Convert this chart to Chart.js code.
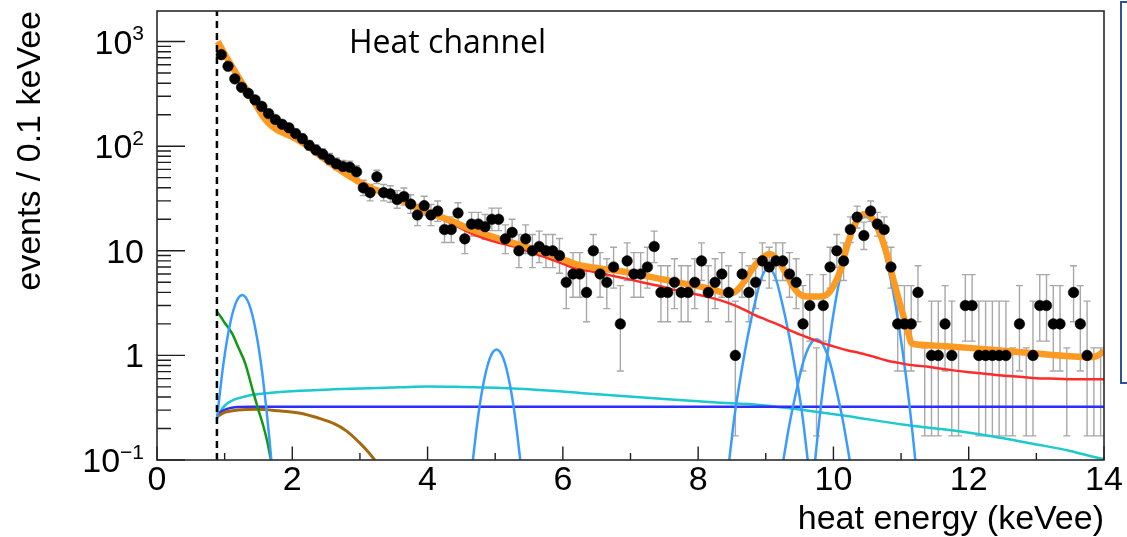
<!DOCTYPE html>
<html><head><meta charset="utf-8">
<script src="https://cdn.jsdelivr.net/npm/chart.js@4/dist/chart.umd.min.js"></script>
<style>html,body{margin:0;padding:0;background:#fff;}canvas{display:block;}</style>
</head><body>
<canvas id="c" width="1127" height="537"></canvas>
<script>
// ---------- data: histogram (events / 0.1 keVee) ----------
const binE = [0.95,1.05,1.15,1.25,1.35,1.45,1.55,1.65,1.75,1.85,
1.95,2.05,2.15,2.25,2.35,2.45,2.55,2.65,2.75,2.85,
2.95,3.05,3.15,3.25,3.35,3.45,3.55,3.65,3.75,3.85,
3.95,4.05,4.15,4.25,4.35,4.45,4.55,4.65,4.75,4.85,
4.95,5.05,5.15,5.25,5.35,5.45,5.55,5.65,5.75,5.85,
5.95,6.05,6.15,6.25,6.35,6.45,6.55,6.65,6.75,6.85,
6.95,7.05,7.15,7.25,7.35,7.45,7.55,7.65,7.75,7.85,
7.95,8.05,8.15,8.25,8.35,8.45,8.55,8.65,8.75,8.85,
8.95,9.05,9.15,9.25,9.35,9.45,9.55,9.65,9.75,9.85,
9.95,10.05,10.15,10.25,10.35,10.45,10.55,10.65,10.75,10.85,
10.95,11.05,11.15,11.25,11.35,11.45,11.55,11.65,11.75,11.85,
11.95,12.05,12.15,12.25,12.35,12.45,12.55,12.65,12.75,12.85,
12.95,13.05,13.15,13.25,13.35,13.45,13.55,13.65,13.75,13.85,
13.95];
const binV = [750,580,440,365,320,277,240,205,180,162,
150,132,118,102,92,84,75,68,64,63,
57,40,36,51,36,35,31,33,28,22,
27,22,24,16,16,23,13,18,18,17,
20,20,13,15,10,13,10,11,10,10,
9,5,6,6,4,10,6,5,7,2,
8,6,6,7,11,4,4,5,4,4,
5,8,4,5,6,4,1,6,4,5,
8,7,8,8,6,5,2,3,null,3,
7,10,8,16,21,14,24,18,16,7,
2,2,2,4,null,1,1,2,1,null,
3,3,1,1,1,1,1,null,2,null,
1,3,3,2,2,null,4,2,1,null,
null];
const barLo = [723,556,419,346,302,260,225,191,167,149,
138,121,107,92,82.5,75,66.4,59.8,56,55.1,
49.5,33.7,30,43.9,30,29.1,25.5,27.3,22.8,17.4,
21.9,17.4,19.1,12,12,18.3,9.4,13.8,13.8,12.9,
15.6,15.6,9.4,11.2,6.9,9.4,6.9,7.7,6.9,6.9,
6.1,2.8,3.6,3.6,2.1,6.9,3.6,2.8,4.4,0.71,
5.2,3.6,3.6,4.4,7.7,2.1,2.1,2.8,2.1,2.1,
2.8,5.2,2.1,2.8,3.6,2.1,0.17,3.6,2.1,2.8,
5.2,4.4,5.2,5.2,3.6,2.8,0.71,1.37,0.17,1.37,
4.4,6.9,5.2,12,16.5,10.3,19.1,13.8,12,4.4,
0.71,0.71,0.71,2.1,0.17,0.17,0.17,0.71,0.17,0.17,
1.37,1.37,0.17,0.17,0.17,0.17,0.17,0.17,0.71,0.17,
0.17,1.37,1.37,0.71,0.71,0.17,2.1,0.71,0.17,0.17,
0.17];
const barHi = [778,605,462,385,339,295,256,220,194,176,
163,145,130,113,103,94,85,77,73,72,
65,47.3,43,58.8,43,41.9,37.6,39.8,34.3,27.7,
33.2,27.7,29.9,21.1,21.1,28.8,17.7,23.3,23.3,22.2,
25.6,25.6,17.7,20,14.3,17.7,14.3,15.4,14.3,14.3,
13.1,8.4,9.6,9.6,7.2,14.3,9.6,8.4,10.8,4.64,
11.9,9.6,9.6,10.8,15.4,7.2,7.2,8.4,7.2,7.2,
8.4,11.9,7.2,8.4,9.6,7.2,3.3,9.6,7.2,8.4,
11.9,10.8,11.9,11.9,9.6,8.4,4.64,5.92,1.18,5.92,
10.8,14.3,11.9,21.1,26.7,18.8,29.9,23.3,21.1,10.8,
4.64,4.64,4.64,7.2,1.18,3.3,3.3,4.64,3.3,1.18,
5.92,5.92,3.3,3.3,3.3,3.3,3.3,1.18,4.64,1.18,
3.3,5.92,5.92,4.64,4.64,1.18,7.2,4.64,3.3,1.18,
1.18];

// ---------- fit curves ----------
const orangeE = [0.9,0.95,1.0,1.1,1.2,1.3,1.4,1.5,1.6,1.7,1.8,1.9,2.0,2.2,2.4,2.6,2.8,3.0,3.2,3.4,3.6,3.8,4.0,4.2,4.4,4.6,4.8,5.0,5.2,5.4,5.6,5.8,6.0,6.2,6.4,6.6,6.8,7.0,7.2,7.4,7.6,7.8,8.0,8.2,8.4,8.5,8.6,8.7,8.8,8.9,9.0,9.05,9.1,9.2,9.3,9.4,9.5,9.6,9.7,9.8,9.9,10.0,10.1,10.2,10.3,10.4,10.47,10.5,10.6,10.7,10.8,10.9,11.0,11.1,11.15,11.2,11.5,12.0,12.5,13.0,13.5,13.8,13.9,14.0];
const orangeV = [1000,870,760,590,462,365,290,225,180,155,140,131,123,103,82,66,54,45,39,35,30.5,26.5,23.5,21,18.7,16.4,14.8,13.4,12.2,11.2,10.2,9.3,8.3,7.4,7.0,6.7,6.45,6.15,5.8,5.45,5.15,4.85,4.6,4.3,3.95,3.95,4.35,5.3,6.7,8.0,9.0,9.3,9.1,7.8,6.0,4.6,3.85,3.65,3.65,3.65,3.8,4.6,6.4,11,17,21.5,22.5,22.3,19.5,14,8.8,4.9,2.85,1.7,1.32,1.28,1.24,1.18,1.11,1.04,0.98,0.96,0.99,1.1];
const redE = [0.9,1.0,1.1,1.2,1.3,1.4,1.5,1.6,1.7,1.8,1.9,2.0,2.2,2.4,2.6,2.8,3.0,3.2,3.4,3.6,3.8,4.0,4.2,4.4,4.6,4.8,5.0,5.2,5.4,5.6,5.8,6.0,6.2,6.4,6.6,6.8,7.0,7.2,7.4,7.6,7.8,8.0,8.2,8.4,8.6,8.8,9.0,9.2,9.4,9.6,9.8,10.0,10.2,10.4,10.6,10.8,11.0,11.2,11.4,11.6,11.8,12.0,12.2,12.4,12.6,12.8,13.0,13.2,13.4,13.6,13.8,14.0];
const redV = [994,752,583,456,358,282,222,177,153,138.5,129,121.5,101.5,81,64.5,53,44,38,34,29.8,25.8,22.8,20.2,17.6,15.1,13.4,12.2,11.3,10.4,9.3,8.4,7.5,6.75,6.4,6.0,5.65,5.3,4.95,4.65,4.3,4.05,3.8,3.55,3.25,2.9,2.5,2.2,1.95,1.69,1.5,1.34,1.22,1.12,1.05,0.97,0.89,0.84,0.8,0.78,0.745,0.715,0.69,0.67,0.65,0.635,0.62,0.605,0.6,0.595,0.59,0.59,0.59];
const peak1E = [0.886,0.91,0.96,1.01,1.06,1.11,1.16,1.21,1.26,1.31,1.36,1.41,1.46,1.51,1.56,1.61,1.66,1.69];
const peak1V = [0.243,0.341,0.647,1.11,1.72,2.43,3.11,3.6,3.78,3.6,3.11,2.43,1.72,1.11,0.647,0.341,0.164,0.1];
const peak2E = [4.67,4.72,4.77,4.82,4.87,4.92,4.97,5.02,5.07,5.12,5.17,5.22,5.27,5.32,5.37];
const peak2V = [0.1,0.19,0.33,0.515,0.73,0.936,1.085,1.14,1.085,0.936,0.73,0.515,0.33,0.19,0.1];
const peak3E = [8.46,8.54,8.64,8.74,8.84,8.94,9.04,9.14,9.24,9.34,9.44,9.54,9.62];
const peak3V = [0.1,0.27,0.7,1.6,3.2,5.6,6.8,5.6,3.2,1.6,0.7,0.27,0.1];
const peak4E = [9.26,9.35,9.45,9.55,9.65,9.75,9.85,9.95,10.05,10.15,10.24];
const peak4V = [0.1,0.22,0.45,0.85,1.25,1.43,1.25,0.85,0.45,0.22,0.1];
const peak5E = [9.73,9.77,9.87,9.97,10.07,10.17,10.27,10.37,10.47,10.57,10.67,10.77,10.87,10.97,11.07,11.17,11.21];
const peak5V = [0.1,0.18,0.65,1.87,4.5,8.8,14.5,19.1,21,19.1,14.5,8.8,4.5,1.87,0.65,0.18,0.1];
const greenE = [0.886,0.95,1.0,1.108,1.2,1.304,1.427,1.5,1.575,1.63,1.684];
const greenV = [2.62,2.3,2.05,1.63,1.2,0.84,0.435,0.3,0.208,0.15,0.1];
const brownE = [0.886,1.0,1.2,1.48,1.8,2.12,2.4,2.61,2.8,3.0,3.12,3.22];
const brownV = [0.26,0.285,0.3,0.305,0.295,0.28,0.25,0.224,0.19,0.145,0.12,0.1];
const blueE = [0.886,0.95,1.05,1.15,1.4,14.0];
const blueV = [0.265,0.29,0.31,0.32,0.323,0.323];
const cyanE = [0.886,0.95,1.0,1.13,1.3,1.62,2.0,2.6,3.6,4.0,4.5,5.02,5.5,6.25,7.24,8.22,8.91,9.35,10.09,11.08,12.06,13.05,13.5,13.93,14.0];
const cyanV = [0.25,0.3,0.33,0.375,0.405,0.435,0.455,0.474,0.496,0.505,0.5,0.491,0.475,0.438,0.394,0.356,0.336,0.312,0.269,0.216,0.18,0.139,0.122,0.104,0.102];
const thresholdE = 0.886;

// ---------- axes ----------
const xMin = 0, xMax = 14;
const yMin = 0.1, yMax = 1960;
const xMajorTicks = [0,2,4,6,8,10,12,14];
const xMinorTicks = [1,3,5,7,9,11,13];
const yTickValues = [0.1,1,10,100,1000];
const yTickBase = ['10','1','10','10','10'];
const yTickExp = ['\u22121','','','2','3'];
const xTitle = 'heat energy (keVee)';
const yTitle = 'events / 0.1 keVee';
const annotation = 'Heat channel';

const FONT = '"Liberation Sans", Arial, Helvetica, sans-serif';
const pts = (xs, ys) => xs.map((x, i) => ({x, y: ys[i]}));
const curve = (xs, ys, color, w) => ({
  data: pts(xs, ys), showLine: true, borderColor: color, borderWidth: w,
  pointRadius: 0, fill: false, cubicInterpolationMode: 'monotone', clip: 0
});

const errorBars = {
  id: 'errorBars',
  beforeDatasetsDraw(chart) {
    const {ctx, chartArea: a, scales: {x, y}} = chart;
    ctx.save();
    ctx.beginPath(); ctx.rect(a.left, a.top, a.right - a.left, a.bottom - a.top); ctx.clip();
    ctx.strokeStyle = '#a8a8a8'; ctx.lineWidth = 1.4;
    for (let i = 0; i < binE.length; i++) {
      const px = x.getPixelForValue(binE[i]);
      const lo = barLo[i], hi = barHi[i];
      const pLo = lo > yMin ? y.getPixelForValue(lo) : a.bottom + 2;
      const pHi = y.getPixelForValue(hi);
      ctx.beginPath();
      ctx.moveTo(px, pLo); ctx.lineTo(px, pHi);
      ctx.moveTo(px - 3.5, pHi); ctx.lineTo(px + 3.5, pHi);
      if (lo > yMin) { ctx.moveTo(px - 3.5, pLo); ctx.lineTo(px + 3.5, pLo); }
      ctx.stroke();
    }
    ctx.restore();
  }
};

const rootAxes = {
  id: 'rootAxes',
  afterDatasetsDraw(chart) {
    const {ctx, chartArea: a, scales: {x, y}} = chart;
    ctx.save();
    ctx.strokeStyle = '#1e1e1e'; ctx.lineWidth = 1.4;
    ctx.beginPath();
    xMajorTicks.forEach(v => { const p = x.getPixelForValue(v); ctx.moveTo(p, a.bottom); ctx.lineTo(p, a.bottom - 13.5); });
    xMinorTicks.forEach(v => { const p = x.getPixelForValue(v); ctx.moveTo(p, a.bottom); ctx.lineTo(p, a.bottom - 7); });
    yTickValues.forEach(v => { const p = y.getPixelForValue(v); ctx.moveTo(a.left, p); ctx.lineTo(a.left + 28, p); });
    for (let d = 0.1; d < yMax; d *= 10) {
      for (let k = 2; k <= 9; k++) {
        const v = k * d;
        if (v >= yMax) continue;
        const p = y.getPixelForValue(v);
        ctx.moveTo(a.left, p); ctx.lineTo(a.left + 14, p);
      }
    }
    ctx.stroke();
    ctx.strokeStyle = '#2a2a2a'; ctx.lineWidth = 1.6;
    ctx.strokeRect(a.left, a.top, a.right - a.left, a.bottom - a.top);
    // y tick labels with superscripts
    ctx.fillStyle = '#000';
    const rightEdge = a.left - 13;
    yTickValues.forEach((v, i) => {
      const p = y.getPixelForValue(v);
      const base = p + 12;
      ctx.font = '21px ' + FONT;
      const ew = yTickExp[i] ? ctx.measureText(yTickExp[i]).width : 0;
      ctx.textAlign = 'left'; ctx.textBaseline = 'alphabetic';
      if (yTickExp[i]) ctx.fillText(yTickExp[i], rightEdge - ew, base - 13.5);
      ctx.font = '34px ' + FONT;
      ctx.textAlign = 'right';
      ctx.fillText(yTickBase[i], rightEdge - ew, base);
    });
    ctx.restore();
  },
  afterDraw(chart) {
    const {ctx} = chart;
    ctx.save();
    ctx.fillStyle = '#000';
    ctx.font = '32px "Open Sans", "Noto Sans", sans-serif';
    ctx.textAlign = 'left'; ctx.textBaseline = 'alphabetic';
    ctx.fillText(annotation, 349, 53);
    ctx.strokeStyle = '#2f5597'; ctx.lineWidth = 2;
    ctx.strokeRect(1121, 2, 30, 381);
    ctx.restore();
  }
};

new Chart(document.getElementById('c'), {
  type: 'scatter',
  data: {
    datasets: [
      { data: pts(binE, binV).filter(p => p.y !== null), pointRadius: 5.3, pointBackgroundColor: '#000', pointBorderColor: '#000', pointBorderWidth: 0.5, showLine: false },
      { data: [{x: thresholdE, y: yMin}, {x: thresholdE, y: yMax}], showLine: true, borderColor: '#000', borderWidth: 2.5, borderDash: [7, 5], pointRadius: 0 },
      curve(orangeE, orangeV, '#fd9a22', 6.5),
      curve(redE, redV, '#ff2b2b', 2.5),
      curve(peak1E, peak1V, '#3a9cff', 2.5),
      curve(peak2E, peak2V, '#3a9cff', 2.5),
      curve(peak3E, peak3V, '#3a9cff', 2.5),
      curve(peak4E, peak4V, '#3a9cff', 2.5),
      curve(peak5E, peak5V, '#3a9cff', 2.5),
      curve(greenE, greenV, '#119a11', 2.5),
      curve(brownE, brownV, '#a5690f', 3),
      curve(blueE, blueV, '#2d2dff', 2.5),
      curve(cyanE, cyanV, '#1cc9cc', 2.5)
    ]
  },
  options: {
    responsive: false, animation: false, devicePixelRatio: 1, events: [],
    layout: { padding: { top: 11, right: 23, left: 0, bottom: 0 } },
    plugins: { legend: { display: false }, tooltip: { enabled: false } },
    scales: {
      x: {
        type: 'linear', min: xMin, max: xMax, position: 'bottom',
        afterFit: s => { s.height = 77; },
        afterBuildTicks: s => { s.ticks = xMajorTicks.map(v => ({value: v})); },
        grid: { display: false, drawTicks: false }, border: { display: false },
        ticks: { color: '#000', font: { family: FONT, size: 34, lineHeight: 1 }, padding: 4, maxRotation: 0, autoSkip: false, callback: v => String(v) },
        title: { display: true, text: xTitle, align: 'end', color: '#000', font: { family: FONT, size: 34, lineHeight: 1 }, padding: 0 }
      },
      y: {
        type: 'logarithmic', min: yMin, max: yMax, position: 'left',
        afterFit: s => { s.width = 157; },
        grid: { display: false, drawTicks: false }, border: { display: false },
        ticks: { display: false },
        title: { display: true, text: yTitle, align: 'end', color: '#000', font: { family: FONT, size: 34, lineHeight: 1 }, padding: { top: 14, bottom: 0 } }
      }
    }
  },
  plugins: [errorBars, rootAxes]
});
</script>
</body></html>
